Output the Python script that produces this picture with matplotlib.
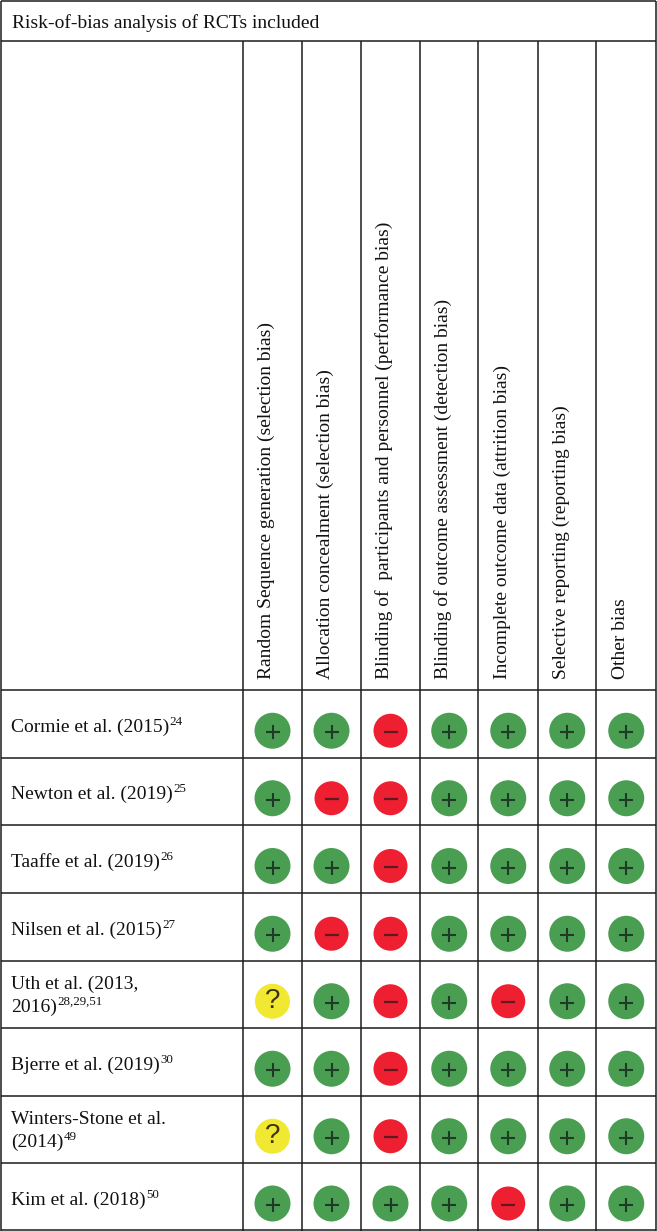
import matplotlib
matplotlib.use("Agg")
import matplotlib.pyplot as plt
import numpy as np

title = "Risk-of-bias analysis of RCTs included"
domains = ["Random Sequence generation (selection bias)",
           "Allocation concealment (selection bias)",
           "Blinding of  participants and personnel (performance bias)",
           "Blinding of outcome assessment (detection bias)",
           "Incomplete outcome data (attrition bias)",
           "Selective reporting (reporting bias)",
           "Other bias"]
studies = [["Cormie et al. (2015)"], ["Newton et al. (2019)"], ["Taaffe et al. (2019)"],
           ["Nilsen et al. (2015)"], ["Uth et al. (2013,", "2016)"], ["Bjerre et al. (2019)"],
           ["Winters-Stone et al.", "(2014)"], ["Kim et al. (2018)"]]
refs = ["24", "25", "26", "27", "28,29,51", "30", "49", "50"]
judgements = ["+ + - + + + +".split(),
              "+ - - + + + +".split(),
              "+ + - + + + +".split(),
              "+ - - + + + +".split(),
              "? + - + - + +".split(),
              "+ + - + + + +".split(),
              "? + - + + + +".split(),
              "+ + + + - + +".split()]

W, H = 657, 1231
col_edges = [0.5, 242.5, 301.5, 360.5, 419.5, 478, 537.5, 596, 655.5]
row_edges = [41, 690, 757.5, 825, 893, 960.5, 1028, 1095.5, 1163, 1230]
fills = {"+": "#4a9e52", "-": "#ee1f30", "?": "#f1e832"}
diam = {"+": 36, "-": 34, "?": 35}
LC = "#1c1c1c"
FONT = "Liberation Serif"
FS = 14

fig = plt.figure(figsize=(W / 100, H / 100), dpi=100, facecolor="white")
ax = fig.add_axes([0, 0, 1, 1])
ax.set_xlim(0, W)
ax.set_ylim(H, 0)
ax.axis("off")

for y in [1] + row_edges:
    ax.plot([0.5, 655.5], [y, y], color=LC, lw=1.1, solid_capstyle="butt")
for i, x in enumerate(col_edges):
    top = 1 if i in (0, len(col_edges) - 1) else 41
    ax.plot([x, x], [top, 1230.5], color=LC, lw=1.1, solid_capstyle="butt")

ax.text(12, 28, title, family=FONT, fontsize=FS, color="#111111", va="baseline")

for j, d in enumerate(domains):
    xc = (col_edges[j + 1] + col_edges[j + 2]) / 2
    ax.text(xc - 5.5, 679, d, family=FONT, fontsize=FS, color="#111111", rotation=90,
            ha="center", va="bottom", rotation_mode="default")

fig.canvas.draw()
rend = fig.canvas.get_renderer()
for i, (lines, ref) in enumerate(zip(studies, refs)):
    top, bottom = row_edges[i + 1], row_edges[i + 2]
    mid = (top + bottom) / 2
    bases = [mid + 8] if len(lines) == 1 else [mid - 5, mid + 17.5]
    last = None
    for line, b in zip(lines, bases):
        last = ax.text(11, b, line, family=FONT, fontsize=FS, color="#111111", va="baseline")
    ext = last.get_window_extent(rend)
    ax.text(ext.x1 + 0.5, bases[-1] - 7, ref, family=FONT, fontsize=FS * 0.67,
            color="#111111", va="baseline")
    for j, s in enumerate(judgements[i]):
        xc = (col_edges[j + 1] + col_edges[j + 2]) / 2 + 0.5
        yc = mid + 7
        ax.scatter([xc], [yc], s=(diam[s] * 0.72) ** 2, color=fills[s], edgecolors="none", zorder=3)
        if s == "+":
            ax.scatter([xc], [yc + 1.5], s=100, marker="+", color="#1f3a26", linewidths=1.5, zorder=4)
        elif s == "-":
            ax.scatter([xc], [yc + 1], s=100, marker="_", color="#5e1a22", linewidths=1.6, zorder=4)
        else:
            ax.text(xc, yc - 0.5, "?", family="Liberation Sans", fontsize=20, color="#3c3412",
                    ha="center", va="center", zorder=4)

fig.savefig("out.png", dpi=100)
